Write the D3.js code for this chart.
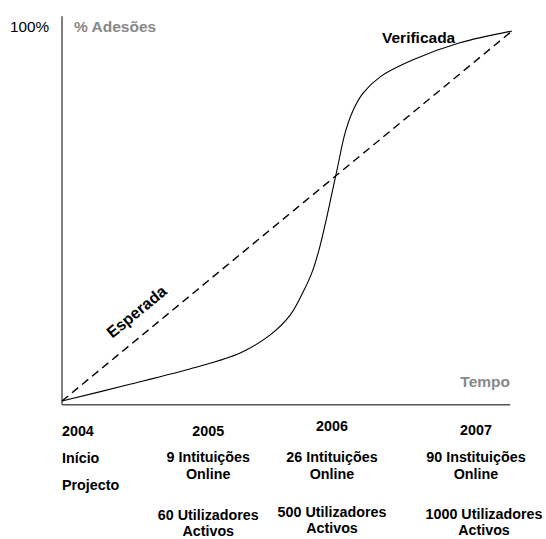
<!DOCTYPE html>
<html>
<head>
<meta charset="utf-8">
<script src="https://cdn.jsdelivr.net/npm/d3@7"></script>
<style>
  html, body { margin: 0; padding: 0; background: #fff; }
  svg { display: block; font-family: "Liberation Sans", Arial, Helvetica, sans-serif; }
</style>
</head>
<body>
<div id="chart"></div>
<script>
// ---------- Data ----------
const expectedT = [0, 1];
const expectedV = [0, 1];

// S-curve (share of time, share of adhesions)
const verifiedT = [0, 0.144, 0.291, 0.396, 0.462, 0.507, 0.536, 0.556, 0.571, 0.587, 0.598, 0.611, 0.629, 0.647, 0.669, 0.707, 0.780, 0.884, 1];
const verifiedV = [0, 0.043, 0.089, 0.130, 0.178, 0.232, 0.295, 0.349, 0.408, 0.489, 0.551, 0.624, 0.724, 0.786, 0.832, 0.876, 0.922, 0.968, 1];

const years = ["2004", "2005", "2006", "2007"];
const yearPos = [0, 0.325, 0.6, 0.92];
const rowA = [["Início"], ["9 Intituições", "Online"], ["26 Intituições", "Online"], ["90 Instituições", "Online"]];
const rowB = [["Projecto"], ["60 Utilizadores", "Activos"], ["500 Utilizadores", "Activos"], ["1000 Utilizadores", "Activos"]];

// ---------- Layout ----------
const W = 546, H = 539;
const svg = d3.select("#chart").append("svg")
    .attr("width", W)
    .attr("height", H);

const x = d3.scaleLinear().domain([0, 1]).range([62, 512]);
const y = d3.scaleLinear().domain([0, 1]).range([401, 31]);

// axes (plain lines, no ticks)
svg.append("line")
    .attr("x1", x(0)).attr("x2", x(0))
    .attr("y1", y(1.04)).attr("y2", y(-0.01))
    .attr("stroke", "#555").attr("stroke-width", 1.5);
svg.append("line")
    .attr("x1", x(0)).attr("x2", x(0.996))
    .attr("y1", y(-0.01)).attr("y2", y(-0.01))
    .attr("stroke", "#555").attr("stroke-width", 1.5);

// expected (dashed)
const expected = expectedT.map((t, i) => [t, expectedV[i]]);
svg.append("path")
    .datum(expected)
    .attr("fill", "none")
    .attr("stroke", "#000")
    .attr("stroke-width", 1.4)
    .attr("stroke-dasharray", "8,5")
    .attr("d", d3.line().x(d => x(d[0])).y(d => y(d[1])));

// verified (S-curve)
const verified = verifiedT.map((t, i) => [t, verifiedV[i]]);
svg.append("path")
    .datum(verified)
    .attr("fill", "none")
    .attr("stroke", "#000")
    .attr("stroke-width", 1.1)
    .attr("d", d3.line().curve(d3.curveCatmullRom.alpha(0.5)).x(d => x(d[0])).y(d => y(d[1])));

// ---------- Labels ----------
svg.append("text")
    .attr("x", 10).attr("y", 32)
    .style("font-size", "15.3px")
    .text("100%");

svg.append("text")
    .attr("x", 74).attr("y", 32)
    .attr("fill", "#888")
    .style("font-size", "15.5px").style("font-weight", "bold")
    .text("% Adesões");

svg.append("text")
    .attr("x", 510).attr("y", 387)
    .attr("text-anchor", "end")
    .attr("fill", "#888")
    .style("font-size", "15.5px").style("font-weight", "bold")
    .text("Tempo");

svg.append("text")
    .attr("x", 382).attr("y", 43)
    .style("font-size", "15.5px").style("font-weight", "bold")
    .text("Verificada");

const ang = Math.atan2(y(1) - y(0), x(1) - x(0)) * 180 / Math.PI;
svg.append("text")
    .attr("transform", `translate(140,316) rotate(${ang})`)
    .attr("text-anchor", "middle")
    .style("font-size", "16px").style("font-weight", "bold")
    .text("Esperada");

// ---------- Bottom annotations ----------
const bottom = svg.append("g").style("font-size", "14.3px").style("font-weight", "bold");
const yearY = [436, 436, 431, 435];
const rowBY = [0, 520, 517, 519];
const colX = i => x(yearPos[i]);
const anchor = i => i === 0 ? "start" : "middle";

years.forEach((yr, i) => {
    bottom.append("text")
        .attr("x", colX(i)).attr("y", yearY[i])
        .attr("text-anchor", anchor(i))
        .text(yr);

    if (i === 0) {
        bottom.append("text").attr("x", colX(i)).attr("y", 463).text(rowA[i][0]);
        bottom.append("text").attr("x", colX(i)).attr("y", 490).text(rowB[i][0]);
    } else {
        rowA[i].forEach((s, k) => {
            bottom.append("text")
                .attr("x", colX(i)).attr("y", 462 + k * 17)
                .attr("text-anchor", "middle")
                .text(s);
        });
        rowB[i].forEach((s, k) => {
            bottom.append("text")
                .attr("x", colX(i) + (i === 3 ? 8 : 0)).attr("y", rowBY[i] + k * 16)
                .attr("text-anchor", "middle")
                .text(s);
        });
    }
});
</script>
</body>
</html>
